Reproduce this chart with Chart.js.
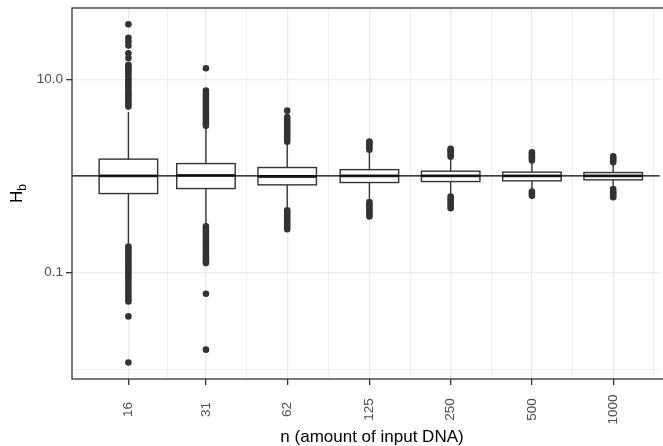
<!DOCTYPE html>
<html>
<head>
<meta charset="utf-8">
<script src="https://cdn.jsdelivr.net/npm/chart.js@4/dist/chart.umd.min.js"></script>
<style>
  html, body { margin: 0; padding: 0; background: #ffffff; }
  #wrap { width: 663px; height: 446px; }
</style>
</head>
<body>
<div id="wrap"><canvas id="chart" width="663" height="446"></canvas></div>
<script>
// Input sizes n (amount of input DNA) and their tick labels
const inputSizes = [16, 31, 62, 125, 250, 500, 1000];
const xTickLabels = ['16', '31', '62', '125', '250', '500', '1000'];

// Box statistics of H_b for each input size
const lowerWhisker = [0.198, 0.31, 0.467, 0.578, 0.652, 0.734, 0.788];
const lowerQuartile = [0.656, 0.739, 0.807, 0.853, 0.873, 0.888, 0.909];
const medians = [1.0, 1.01, 0.985, 1.0, 1.0, 1.0, 1.0];
const upperQuartile = [1.49, 1.34, 1.22, 1.16, 1.118, 1.092, 1.082];
const upperWhisker = [4.59, 3.13, 2.14, 1.73, 1.46, 1.36, 1.30];

// Outlying H_b values per input size
const outliers16 = [37.0, 26.9, 24.5, 22.3, 18.6, 16.6,
  14.1, 13.4, 12.7, 12.0, 11.3, 10.6, 10.0, 9.4, 8.9, 8.4, 7.9, 7.4, 7.0, 6.6, 6.2, 5.85, 5.5, 5.21,
  0.186, 0.175, 0.165, 0.155, 0.146, 0.137, 0.129, 0.121, 0.114, 0.107, 0.101, 0.095, 0.089,
  0.083, 0.077, 0.071, 0.066, 0.061, 0.057, 0.053, 0.050, 0.0351, 0.0117];
const outliers31 = [13.0,
  7.64, 7.1, 6.7, 6.3, 5.95, 5.6, 5.28, 4.98, 4.7, 4.42, 4.17, 3.93, 3.7, 3.5, 3.31,
  0.300, 0.283, 0.267, 0.251, 0.237, 0.223, 0.21, 0.198, 0.187, 0.176, 0.166, 0.156, 0.147, 0.139, 0.131, 0.125,
  0.0602, 0.0159];
const outliers62 = [4.73, 4.05, 3.82, 3.6, 3.4, 3.21, 3.03, 2.86, 2.7, 2.55, 2.4, 2.26,
  0.439, 0.415, 0.392, 0.37, 0.35, 0.33, 0.313, 0.296, 0.28];
const outliers125 = [2.27, 2.2, 2.09, 1.97, 1.86,
  0.535, 0.505, 0.477, 0.45, 0.425, 0.401, 0.379];
const outliers250 = [1.90, 1.84, 1.75, 1.66, 1.58,
  0.612, 0.58, 0.55, 0.52, 0.49, 0.462];
const outliers500 = [1.75, 1.68, 1.6, 1.52, 1.44,
  0.69, 0.655, 0.621];
const outliers1000 = [1.59, 1.52, 1.45, 1.38,
  0.729, 0.69, 0.655, 0.625, 0.601];
const outlierGroups = [outliers16, outliers31, outliers62, outliers125, outliers250, outliers500, outliers1000];

// Reference line and y-axis ticks
const referenceLine = 1;
const yTickValues = [0.1, 10];
const yTickLabels = ['0.1', '10.0'];
const yMinorValues = [0.01, 1];

// Axis titles
const xTitle = 'n (amount of input DNA)';
const yTitleMain = 'H';
const yTitleSub = 'b';

// ---- drawing setup ----
const FONT = '"Liberation Sans", Arial, Helvetica, sans-serif';
const DARK = '#333333';
const GRID = '#EBEBEB';
const BOX_HALF = 0.36;          // half box width, in log2 units of n

// Minor x grid lines sit half-way (in log space) between the labelled sizes
const xMinorValues = [];
for (let i = 0; i < inputSizes.length - 1; i++) {
  xMinorValues.push(Math.sqrt(inputSizes[i] * inputSizes[i + 1]));
}
xMinorValues.push(inputSizes[inputSizes.length - 1] * Math.SQRT2);

const outlierPoints = [];
inputSizes.forEach((n, i) => {
  outlierGroups[i].forEach(v => outlierPoints.push({ x: n, y: v }));
});

const boxPlotPlugin = {
  id: 'boxPlot',
  beforeDatasetsDraw(chart) {
    const { ctx, chartArea, scales: { x, y } } = chart;
    ctx.save();
    ctx.beginPath();
    ctx.rect(chartArea.left, chartArea.top, chartArea.right - chartArea.left, chartArea.bottom - chartArea.top);
    ctx.clip();
    inputSizes.forEach((n, i) => {
      const cx = x.getPixelForValue(n);
      const xl = x.getPixelForValue(n * Math.pow(2, -BOX_HALF));
      const xr = x.getPixelForValue(n * Math.pow(2, BOX_HALF));
      const yq1 = y.getPixelForValue(lowerQuartile[i]);
      const yq3 = y.getPixelForValue(upperQuartile[i]);
      const ymed = y.getPixelForValue(medians[i]);
      const ylo = y.getPixelForValue(lowerWhisker[i]);
      const yhi = y.getPixelForValue(upperWhisker[i]);
      ctx.strokeStyle = DARK;
      ctx.lineWidth = 1.4;
      ctx.beginPath();
      ctx.moveTo(cx, yq3); ctx.lineTo(cx, yhi);
      ctx.moveTo(cx, yq1); ctx.lineTo(cx, ylo);
      ctx.stroke();
      ctx.fillStyle = '#ffffff';
      ctx.fillRect(xl, yq3, xr - xl, yq1 - yq3);
      ctx.strokeRect(xl, yq3, xr - xl, yq1 - yq3);
      ctx.lineWidth = 2.8;
      ctx.beginPath();
      ctx.moveTo(xl, ymed); ctx.lineTo(xr, ymed);
      ctx.stroke();
    });
    ctx.restore();
  },
  afterDatasetsDraw(chart) {
    const { ctx, chartArea, scales: { x, y } } = chart;
    ctx.save();
    // horizontal reference line
    const yr = y.getPixelForValue(referenceLine);
    ctx.strokeStyle = '#000000';
    ctx.lineWidth = 1.3;
    ctx.beginPath();
    ctx.moveTo(chartArea.left, yr); ctx.lineTo(chartArea.right, yr);
    ctx.stroke();
    // panel border (open to the right edge)
    ctx.strokeStyle = DARK;
    ctx.lineWidth = 1.3;
    ctx.strokeRect(chartArea.left, chartArea.top, chartArea.right - chartArea.left + 20, chartArea.bottom - chartArea.top);
    // rotated x tick labels, centred on each other
    ctx.fillStyle = '#4D4D4D';
    ctx.font = '13.5px ' + FONT;
    ctx.textAlign = 'center';
    ctx.textBaseline = 'middle';
    inputSizes.forEach((n, i) => {
      ctx.save();
      ctx.translate(x.getPixelForValue(n), 409.5);
      ctx.rotate(-Math.PI / 2);
      ctx.fillText(xTickLabels[i], 0, 0);
      ctx.restore();
    });
    // x title
    ctx.fillStyle = '#000000';
    ctx.font = '17px ' + FONT;
    ctx.textBaseline = 'alphabetic';
    ctx.fillText(xTitle, 372, 442);
    // y title with subscript
    ctx.save();
    ctx.translate(22, 193.5);
    ctx.rotate(-Math.PI / 2);
    ctx.font = '17px ' + FONT;
    const wMain = ctx.measureText(yTitleMain).width;
    ctx.font = '12px ' + FONT;
    const wSub = ctx.measureText(yTitleSub).width;
    const start = -(wMain + wSub) / 2;
    ctx.textAlign = 'left';
    ctx.font = '17px ' + FONT;
    ctx.fillText(yTitleMain, start, 0);
    ctx.font = '12px ' + FONT;
    ctx.fillText(yTitleSub, start + wMain, 4);
    ctx.restore();
    ctx.restore();
  }
};

const isIn = (arr, v) => arr.some(a => Math.abs(a - v) / a < 1e-6);

new Chart(document.getElementById('chart'), {
  type: 'scatter',
  data: {
    datasets: [{
      data: outlierPoints,
      pointRadius: 3.3,
      pointBackgroundColor: DARK,
      pointBorderWidth: 0,
      pointHoverRadius: 3.3,
      showLine: false
    }]
  },
  options: {
    responsive: false,
    animation: false,
    devicePixelRatio: 1,
    events: [],
    layout: { padding: { top: 8, left: 0, right: 0, bottom: 0 } },
    plugins: { legend: { display: false }, tooltip: { enabled: false } },
    scales: {
      x: {
        type: 'logarithmic',
        min: 9.89,
        max: 1487,
        bounds: 'data',
        afterBuildTicks: (s) => {
          s.ticks = inputSizes.concat(xMinorValues).sort((a, b) => a - b).map(v => ({ value: v }));
        },
        afterFit: (s) => { s.height = 67; s.paddingLeft = 0; s.paddingRight = 0; },
        ticks: { display: false },
        border: { display: false },
        grid: {
          color: GRID,
          lineWidth: (c) => (c.tick && isIn(inputSizes, c.tick.value)) ? 1.3 : 0.8,
          drawTicks: true,
          tickLength: 6,
          tickWidth: 1.3,
          tickColor: (c) => (c.tick && isIn(inputSizes, c.tick.value)) ? DARK : 'rgba(0,0,0,0)'
        }
      },
      y: {
        type: 'logarithmic',
        min: 0.0079,
        max: 54.6,
        bounds: 'data',
        afterBuildTicks: (s) => {
          s.ticks = yTickValues.concat(yMinorValues).sort((a, b) => a - b).map(v => ({ value: v }));
        },
        afterFit: (s) => { s.width = 72; s.paddingTop = 0; s.paddingBottom = 0; },
        ticks: {
          font: { family: FONT, size: 13.5 },
          color: '#4D4D4D',
          padding: 3,
          callback: (v) => {
            const k = yTickValues.findIndex(t => Math.abs(t - v) / t < 1e-6);
            return k >= 0 ? yTickLabels[k] : '';
          }
        },
        border: { display: false },
        grid: {
          color: GRID,
          lineWidth: (c) => (c.tick && isIn(yTickValues, c.tick.value)) ? 1.3 : 0.8,
          drawTicks: true,
          tickLength: 6,
          tickWidth: 1.3,
          tickColor: (c) => (c.tick && isIn(yTickValues, c.tick.value)) ? DARK : 'rgba(0,0,0,0)'
        }
      }
    }
  },
  plugins: [boxPlotPlugin]
});
</script>
</body>
</html>
